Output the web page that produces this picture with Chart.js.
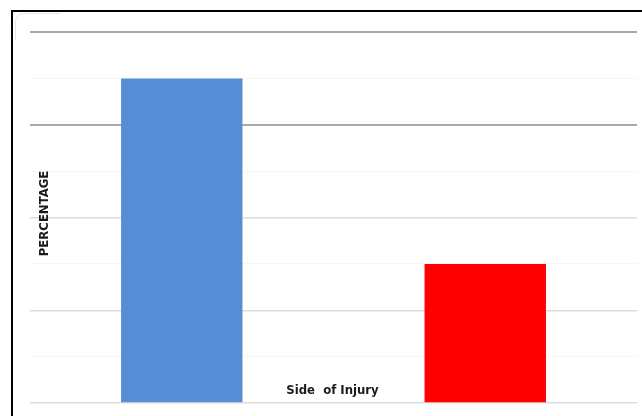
<!DOCTYPE html>
<html>
<head>
<meta charset="utf-8">
<script src="https://cdn.jsdelivr.net/npm/chart.js@4/dist/chart.umd.min.js"></script>
<style>
  html, body { margin: 0; padding: 0; background: #ffffff; }
  canvas { display: block; }
</style>
</head>
<body>
<canvas id="chart" width="642" height="416"></canvas>
<script>
// Side of injury, share of cases (%)
const categories = ['Right', 'Left'];
const percentages = [70, 30];
const barColors = ['#558ed5', '#ff0000'];
const yTicks = [0, 10, 20, 30, 40, 50, 60, 70, 80];
const yTitle = 'PERCENTAGE';
const xTitle = 'Side  of Injury';

const titleFont = "bold 13px 'Liberation Sans Narrow', 'DejaVu Sans Condensed', Arial, sans-serif";

// Frame lines and the two axis titles, which sit inside the plot area
const framePlugin = {
  id: 'frame',
  beforeDraw(chart) {
    const ctx = chart.ctx;
    ctx.save();
    // dark frame on top and left
    ctx.strokeStyle = '#000000';
    ctx.lineWidth = 2;
    ctx.beginPath();
    ctx.moveTo(12, 416);
    ctx.lineTo(12, 11);
    ctx.lineTo(642, 11);
    ctx.stroke();
    // faint rounded corner of the inner chart area
    ctx.strokeStyle = '#e6e6e6';
    ctx.lineWidth = 1;
    ctx.beginPath();
    ctx.moveTo(15.5, 40);
    ctx.arcTo(15.5, 13.5, 40, 13.5, 8);
    ctx.lineTo(60, 13.5);
    ctx.stroke();
    ctx.restore();
  },
  afterDraw(chart) {
    const ctx = chart.ctx;
    const area = chart.chartArea;
    ctx.save();
    ctx.fillStyle = '#1a1a1a';
    ctx.font = titleFont;
    ctx.textAlign = 'center';
    ctx.textBaseline = 'middle';
    // x-axis title just above the baseline
    ctx.fillText(xTitle, (area.left + area.right) / 2 - 1, area.bottom - 12);
    // rotated y-axis title
    ctx.translate(area.left + 15, (area.top + area.bottom) / 2 - 4);
    ctx.rotate(-Math.PI / 2);
    ctx.fillText(yTitle, 0, 0);
    ctx.restore();
  }
};

function gridColor(v) {
  if (v === 80 || v === 60) return '#a9a9a9';
  if (v % 20 === 0) return '#dcdcdc';
  return '#f6f6f6';
}
function gridWidth(v) {
  if (v === 80 || v === 60) return 2;
  if (v % 20 === 0) return 1.5;
  return 1;
}

new Chart(document.getElementById('chart'), {
  type: 'bar',
  data: {
    labels: categories,
    datasets: [{
      data: percentages,
      backgroundColor: barColors,
      borderWidth: 0,
      barPercentage: 0.8,
      categoryPercentage: 0.5
    }]
  },
  options: {
    responsive: false,
    animation: false,
    layout: { padding: { left: 30, top: 32, right: 5, bottom: 13 } },
    plugins: {
      legend: { display: false },
      tooltip: { enabled: false },
      title: { display: false }
    },
    scales: {
      x: {
        display: false,
        grid: { display: false }
      },
      y: {
        min: 0,
        max: 80,
        afterBuildTicks(scale) {
          scale.ticks = yTicks.map(v => ({ value: v }));
        },
        ticks: { display: false },
        border: { display: false },
        grid: {
          drawTicks: false,
          color: ctx => gridColor(ctx.tick.value),
          lineWidth: ctx => gridWidth(ctx.tick.value)
        }
      }
    }
  },
  plugins: [framePlugin]
});
</script>
</body>
</html>
